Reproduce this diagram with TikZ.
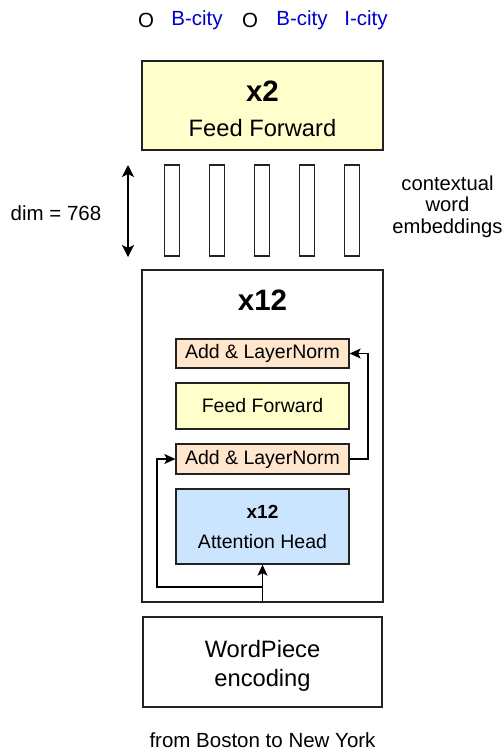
\documentclass[tikz,border=0pt]{standalone}
\usepackage{fontspec}
\setmainfont{Liberation Sans}
\usetikzlibrary{arrows.meta}
\definecolor{fyellow}{HTML}{FFFFCC}
\definecolor{fpeach}{HTML}{FFE6CC}
\definecolor{fblue}{HTML}{CCE5FF}
\definecolor{tagblue}{HTML}{0000CC}
\definecolor{edge}{HTML}{222222}
\tikzset{
  box/.style={draw=edge, line width=1.3pt, inner sep=0pt, anchor=center},
  emb/.style={draw=edge, line width=1.1pt, minimum width=15pt, minimum height=91pt, inner sep=0pt},
  txt/.style={inner sep=0pt, anchor=center, text=black},
  norm/.style={txt, font=\fontsize{20.5}{24}\selectfont},
  small/.style={txt, font=\fontsize{19.5}{23}\selectfont},
  big/.style={txt, font=\fontsize{23.7}{28}\selectfont},
  ttl/.style={txt, font=\fontsize{29.5}{34}\selectfont\bfseries},
  tip/.style={Stealth[length=11pt,width=10pt,inset=2.5pt]},
  dtip/.style={Stealth[length=12pt,width=12pt,inset=3pt]},
  arr/.style={draw=black, line width=1.3pt, -{Stealth[length=11pt,width=10pt,inset=2.5pt]}},
  darr/.style={draw=black, line width=1.3pt, {Stealth[length=12pt,width=12pt,inset=3pt]}-{Stealth[length=12pt,width=12pt,inset=3pt]}},
}
\begin{document}
\begin{tikzpicture}[x=1pt,y=-1pt]
\useasboundingbox (0,0) rectangle (503,753);
\fill[white] (0,0) rectangle (503,753);

% output tags
\node[norm] (t1) at (146,20) {O};
\node[norm, text=tagblue] (t2) at (197,20) {B-city};
\node[norm] (t3) at (250,20) {O};
\node[norm, text=tagblue] (t4) at (302,20) {B-city};
\node[norm, text=tagblue] (t5) at (366,20) {I-city};

% top feed forward
\node[box, fill=fyellow, minimum width=241pt, minimum height=89pt] (ff2) at (262.5,105.5) {};
\node[ttl] (ff2t) at (262.5,91) {x2};
\node[big] (ff2l) at (262.5,128) {Feed Forward};

% embeddings
\foreach \i/\x in {1/172,2/217,3/262,4/307,5/352}{
  \node[emb] (e\i) at (\x,210.5) {};
}
\coordinate (dtop) at (128,165);
\coordinate (dbot) at (128,257);
\draw[darr] (dtop) -- (dbot);
\node[norm] (dim) at (56,213) {dim = 768};
\node[txt, align=center, font=\fontsize{20.2}{21.5}\selectfont] (cwe) at (447.5,206.5) {contextual\\word\\embeddings};

% big encoder box
\node[box, fill=white, minimum width=241pt, minimum height=332pt] (enc) at (262.5,436) {};
\node[ttl] (enct) at (262.5,300) {x12};

\node[box, fill=fpeach, minimum width=173pt, minimum height=29pt] (aln1) at (262.5,353.5) {};
\node[small] at (aln1) {Add \& LayerNorm};
\node[box, fill=fyellow, minimum width=173pt, minimum height=46pt] (ff1) at (262.5,406) {};
\node[small] at (ff1) {Feed Forward};
\node[box, fill=fpeach, minimum width=173pt, minimum height=30pt] (aln2) at (262.5,459) {};
\node[small] at (aln2) {Add \& LayerNorm};
\node[box, fill=fblue, minimum width=173pt, minimum height=75pt] (att) at (262.5,526.5) {};
\node[txt, font=\fontsize{19}{22}\selectfont\bfseries] (attt) at (262.5,512) {x12};
\node[small] (attl) at (262.5,542) {Attention Head};

% connectors
\draw[arr] (enc.south) -- (att.south);
\coordinate (c1) at (262.5,587);
\coordinate (c2) at (157,587);
\draw[arr] (enc.south) -- (c1) -- (c2) |- (aln2.west);
\coordinate (c3) at (368,459);
\draw[arr] (aln2.east) -- (c3) |- (aln1.east);

% wordpiece
\node[box, fill=white, minimum width=239pt, minimum height=90pt] (wp) at (262.5,662) {};
\node[big] (wp1) at (262.5,649) {WordPiece};
\node[big] (wp2) at (262.5,680) {encoding};

\node[norm] (inp) at (262.5,740) {from Boston to New York};
\end{tikzpicture}
\end{document}
